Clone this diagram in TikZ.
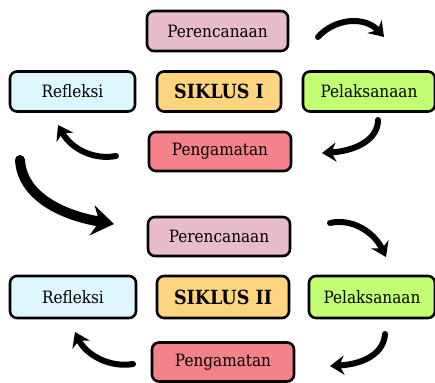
\documentclass[tikz,border=0pt]{standalone}
\usepackage{fontspec}
\setmainfont{DejaVu Serif Condensed}
\usetikzlibrary{arrows.meta}
\definecolor{c-rencana}{HTML}{E8BCC8}
\definecolor{c-refleksi}{HTML}{DDF6FF}
\definecolor{c-siklus}{HTML}{FFD47F}
\definecolor{c-laksana}{HTML}{C2FF72}
\definecolor{c-amat}{HTML}{F5828A}

\begin{document}
\begin{tikzpicture}[x=1pt,y=-1pt]
                % define styles
\tikzset{box/.style={draw=black,
                       line width=2.6pt,
                       rounded corners=7pt,
                       minimum height=40pt,
                       inner sep=0,
                       font=\fontsize{17}{19}\selectfont,
                       },
         siklus/.style={box,
                       font=\fontsize{19.5}{21}\selectfont\bfseries,
                       },
         brush/.style={line width=6pt,
                       line cap=round,
                       -{Stealth[length=14pt,width=19pt]},
                       },
         bigbrush/.style={line width=10pt,
                       line cap=round,
                       -{Stealth[length=22pt,width=30pt]},
                       }
}

\useasboundingbox (0,0) rectangle (435,382);

% nodes, siklus I
\node[box, fill=c-rencana, minimum width=141pt]     (ren1) at (217.5,31)   {Perencanaan};
\node[box, fill=c-refleksi, minimum width=125pt]    (ref1) at (72.5,91.5)  {Refleksi};
\node[siklus, fill=c-siklus, minimum width=124pt]   (sik1) at (219,91.5)   {SIKLUS I};
\node[box, fill=c-laksana, minimum width=132pt]     (lak1) at (369,91.5)   {Pelaksanaan};
\node[box, fill=c-amat, minimum width=142pt, minimum height=39pt] (amt1) at (220,151.5) {Pengamatan};

% nodes, siklus II
\node[box, fill=c-rencana, minimum width=142pt, minimum height=39pt] (ren2) at (219,236.5) {Perencanaan};
\node[box, fill=c-refleksi, minimum width=126pt, minimum height=42pt] (ref2) at (73,297) {Refleksi};
\node[siklus, fill=c-siklus, minimum width=132pt, minimum height=42pt] (sik2) at (223,297) {SIKLUS II};
\node[box, fill=c-laksana, minimum width=126pt, minimum height=42pt] (lak2) at (372,297) {Pelaksanaan};
\node[box, fill=c-amat, minimum width=142pt, minimum height=39pt] (amt2) at (223,362) {Pengamatan};

% arrow ends
\coordinate (a1s) at (318,37);   \coordinate (a1e) at (384,37);
\coordinate (a2s) at (378,120);  \coordinate (a2e) at (322,153);
\coordinate (a3s) at (116,156);  \coordinate (a3e) at (58,125);
\coordinate (bgs) at (20,160);   \coordinate (bge) at (114,224);
\coordinate (b1s) at (330,223);  \coordinate (b1e) at (386,257);
\coordinate (b2s) at (385,334);  \coordinate (b2e) at (330,366);
\coordinate (b3s) at (133,364);  \coordinate (b3e) at (75,332);

% arrows
\draw[brush] (a1s) .. controls (335,18) and (365,16) .. (a1e);
\draw[brush] (a2s) .. controls (378,140) and (355,151) .. (a2e);
\draw[brush] (a3s) .. controls (95,160) and (72,150) .. (a3e);
\draw[bigbrush] (bgs) .. controls (22,195) and (60,215) .. (bge);
\draw[brush] (b1s) .. controls (352,218) and (374,232) .. (b1e);
\draw[brush] (b2s) .. controls (384,352) and (366,364) .. (b2e);
\draw[brush] (b3s) .. controls (110,368) and (86,355) .. (b3e);

\end{tikzpicture}
\end{document}
